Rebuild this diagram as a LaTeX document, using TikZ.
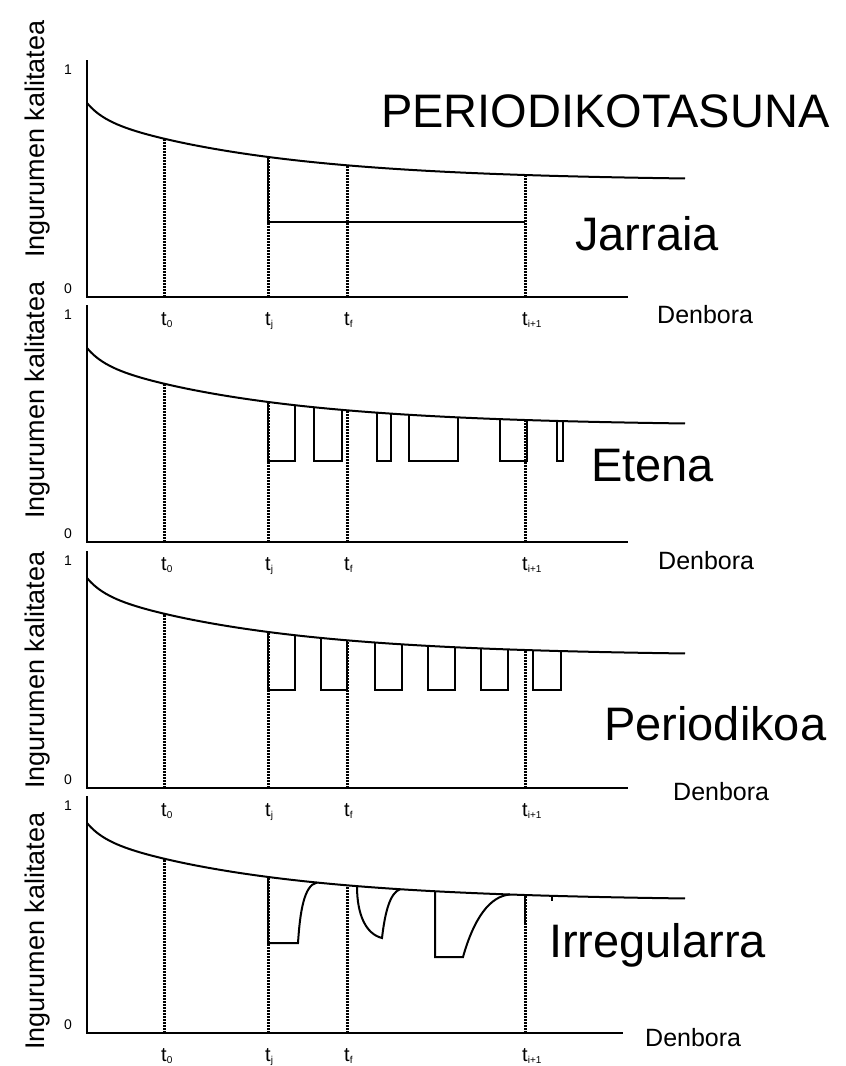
\documentclass[tikz,border=0pt]{standalone}
\usepackage{fontspec}
\setmainfont{Liberation Sans}
\pgfmathdeclarefunction{hq}{1}{\pgfmathparse{116+14*exp(max(-(#1-87)/16.6,-9))+64*exp(max(-(#1-87)/185,-9))}}
\tikzset{
 axisl/.style={line width=2.4pt},
 curvel/.style={line width=2pt},
 shapel/.style={line width=2pt, line join=miter},
 dotl/.style={line width=3pt, dash pattern=on 2pt off 1pt},
 big/.style={font=\fontsize{47}{47}\selectfont, inner sep=0pt, anchor=base west},
 den/.style={font=\fontsize{25}{25}\selectfont, inner sep=0pt, anchor=base west},
 ylab/.style={font=\fontsize{27}{27}\selectfont, rotate=90, anchor=base, inner sep=0pt},
 num/.style={font=\fontsize{14}{14}\selectfont, anchor=base, inner sep=0pt},
 tlab/.style={font=\fontsize{20}{20}\selectfont, anchor=base, inner sep=0pt},
}
\newcommand{\sbs}[1]{\rlap{\raisebox{-2pt}{\fontsize{10}{10}\selectfont #1}}}
% #1 axis y, #2 top, #3 offset, #4 axis end, #5 id, #6 ylabel centre
\newcommand{\qpanel}[6]{%
  \draw[axisl] (87,#2) -- (87,#1) -- (#4,#1);
  \draw[curvel] plot[domain=87:685, samples=160, smooth] (\x,{#1-#3-hq(\x)});
  \foreach \tx in {164,268,347,525} \draw[dotl] (\tx,#1) -- (\tx,{#1-#3-hq(\tx)});
  \node[num] (one#5) at (68,{#2+14}) {1};
  \node[num] (zero#5) at (68,{#1-4}) {0};
  \node[tlab] (tz#5) at (164,{#1+28}) {t\sbs{0}};
  \node[tlab] (tj#5) at (268,{#1+28}) {t\sbs{j}};
  \node[tlab] (tf#5) at (347,{#1+28}) {t\sbs{f}};
  \node[tlab] (ti#5) at (525,{#1+28}) {t\sbs{i+1}};
  \node[ylab] (yl#5) at (44,#6) {Ingurumen kalitatea};
}
\begin{document}
\begin{tikzpicture}[x=1pt,y=-1pt]
\fill[white] (0,0) rectangle (846,1066);
\useasboundingbox (0,0) rectangle (846,1066);

% Panel 1 - Jarraia
\qpanel{297}{60}{0}{628}{a}{139}
\draw[shapel] (268,{297-hq(268)}) -- (268,222) -- (525,222);
\node[big] (title) at (381,127) {PERIODIKOTASUNA};
\node[big] (jarraia) at (575,250) {Jarraia};
\node[den] (dena) at (657,323) {Denbora};

% Panel 2 - Etena
\qpanel{542}{305}{0}{628}{b}{400}
\foreach \a/\b in {268/295,314/342,377/391,409/458,500/527,557/563}
  \draw[shapel] (\a,{542-hq(\a)}) -- (\a,461) -- (\b,461) -- (\b,{542-hq(\b)});
\node[big] (etena) at (591,481) {Etena};
\node[den] (denb) at (658,569) {Denbora};

% Panel 3 - Periodikoa
\qpanel{788}{551}{16}{628}{c}{670}
\foreach \a/\b in {268/295,321/347,375/402,428/455,481/508,533/561}
  \draw[shapel] (\a,{772-hq(\a)}) -- (\a,690) -- (\b,690) -- (\b,{772-hq(\b)});
\node[big] (periodikoa) at (604,740) {Periodikoa};
\node[den] (denc) at (673,800) {Denbora};

% Panel 4 - Irregularra
\qpanel{1033}{796}{16}{623}{d}{931}
\draw[shapel] (268,{1017-hq(268)}) -- (268,943) -- (298,943)
  .. controls (300,912) and (304,885) .. (317,{1017-hq(317)});
\draw[shapel] (357,{1017-hq(357)}) .. controls (357,915) and (366,934) .. (382,938)
  .. controls (385,912) and (390,893) .. (400,{1017-hq(400)});
\draw[shapel] (435,{1017-hq(435)}) -- (435,957) -- (463,957)
  .. controls (474,918) and (490,896) .. (510,{1017-hq(510)});
\draw[shapel] (525,{1017-hq(525)}) -- (525,925);
\draw[shapel] (552,{1017-hq(552)}) -- (552,901);
\node[big] (irregularra) at (549,957) {Irregularra};
\node[den] (dend) at (645,1046) {Denbora};
\end{tikzpicture}
\end{document}
